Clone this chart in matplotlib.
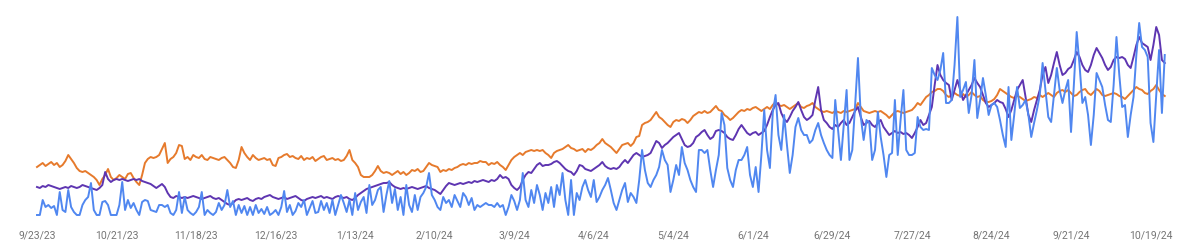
import numpy as np
import matplotlib
matplotlib.use('Agg')
import matplotlib.pyplot as plt

# daily values, day 0 = 9/23/23, last day = 10/24/24 (relative units)
orange = [
    48, 50, 52, 49, 51, 53, 50, 52, 48, 50,
    54, 60, 56, 52, 47, 44, 43, 44, 42, 40,
    38, 35, 30, 36, 40, 46, 38, 35, 37, 40,
    38, 36, 41, 42, 37, 33, 30, 40, 52, 56,
    58, 57, 58, 60, 66, 72, 52, 56, 58, 62,
    70, 69, 56, 58, 55, 60, 58, 57, 60, 56,
    55, 58, 57, 56, 55, 57, 58, 55, 52, 48,
    47, 55, 68, 62, 58, 55, 60, 57, 55, 56,
    57, 55, 56, 50, 49, 57, 58, 60, 61, 58,
    59, 57, 56, 59, 55, 57, 56, 58, 54, 56,
    58, 59, 55, 56, 57, 55, 56, 54, 55, 59,
    65, 55, 52, 48, 40, 38, 38, 38, 40, 44,
    49, 44, 42, 43, 42, 40, 42, 44, 41, 43,
    40, 42, 45, 44, 46, 43, 44, 48, 52, 50,
    49, 48, 43, 45, 44, 46, 45, 47, 48, 50,
    51, 50, 52, 51, 52, 52, 54, 53, 53, 50,
    52, 51, 53, 50, 48, 45, 50, 55, 58, 60,
    62, 60, 63, 64, 65, 64, 65, 64, 65, 62,
    60, 57, 62, 64, 65, 66, 68, 70, 67, 66,
    64, 65, 66, 63, 66, 65, 67, 70, 72, 76,
    72, 70, 68, 65, 62, 66, 70, 71, 72, 69,
    72, 78, 79, 90, 92, 93, 95, 99, 103, 98,
    96, 93, 90, 88, 93, 95, 94, 96, 95, 92,
    95, 99, 101, 103, 102, 104, 102, 103, 106, 109,
    105, 104, 100, 98, 95, 97, 100, 103, 105, 104,
    106, 105, 107, 108, 106, 104, 106, 108, 106, 110,
    113, 110, 109, 110, 108, 106, 108, 110, 112, 108,
    107, 109, 110, 112, 108, 106, 104, 103, 104, 103,
    102, 104, 103, 102, 104, 103, 104, 105, 106, 112,
    108, 104, 103, 102, 103, 104, 103, 104, 102, 100,
    97, 100, 103, 104, 103, 102, 103, 104, 105, 108,
    112, 110, 114, 118, 120, 123, 124, 126, 126, 124,
    120, 118, 120, 122, 120, 119, 121, 118, 120, 123,
    120, 118, 119, 115, 113, 113, 114, 116, 120, 126,
    124, 122, 120, 118, 117, 119, 118, 116, 114, 115,
    116, 118, 117, 120, 118, 120, 122, 120, 118, 122,
    124, 125, 123, 125, 122, 119, 120, 123, 125, 126,
    122, 120, 123, 126, 124, 120, 119, 120, 121, 122,
    121, 119, 118, 116, 119, 122, 125, 128, 126, 125,
    122, 121, 124, 126, 130, 125, 121, 119,
]

purple = [
    28, 27, 29, 28, 30, 29, 28, 27, 26, 27,
    28, 27, 29, 28, 27, 28, 30, 29, 28, 27,
    26, 25, 27, 30, 43, 36, 33, 35, 36, 35,
    36, 35, 34, 35, 36, 35, 36, 34, 33, 32,
    31, 29, 27, 29, 31, 28, 22, 18, 17, 19,
    18, 17, 18, 17, 18, 19, 18, 17, 16, 17,
    18, 19, 17, 16, 17, 15, 13, 11, 10, 12,
    15, 16, 15, 16, 17, 15, 14, 16, 17, 16,
    18, 19, 20, 18, 17, 16, 17, 18, 16, 17,
    18, 19, 17, 15, 14, 16, 17, 18, 17, 18,
    19, 17, 18, 17, 16, 18, 19, 18, 17, 18,
    16, 15, 17, 20, 22, 24, 26, 27, 28, 29,
    30, 31, 32, 32, 33, 30, 28, 27, 26, 27,
    26, 27, 28, 27, 26, 27, 28, 29, 27, 26,
    25, 23, 21, 25, 29, 32, 31, 30, 31, 32,
    31, 32, 33, 32, 34, 33, 34, 35, 34, 33,
    35, 34, 36, 40, 37, 38, 36, 30, 27, 25,
    28, 35, 40, 43, 42, 46, 50, 52, 49, 50,
    50, 51, 53, 54, 52, 49, 46, 44, 43, 40,
    44, 50, 49, 46, 45, 44, 46, 48, 50, 53,
    49, 47, 46, 47, 46, 48, 52, 55, 52, 56,
    60, 62, 60, 58, 59, 60, 62, 68, 74, 72,
    67, 70, 72, 75, 78, 80, 82, 76, 70, 68,
    69, 72, 78, 80, 83, 85, 80, 76, 78, 84,
    85, 84, 82, 78, 76, 75, 80, 86, 90, 86,
    82, 80, 82, 83, 80, 82, 84, 90, 98, 105,
    110, 112, 102, 96, 93, 98, 104, 108, 113, 105,
    98, 95, 97, 100, 115, 128, 105, 95, 92, 88,
    86, 90, 88, 92, 95, 90, 92, 98, 104, 108,
    98, 90, 92, 94, 90, 88, 92, 95, 88, 84,
    80, 82, 84, 82, 83, 81, 82, 80, 77, 82,
    88, 95, 90, 92, 100, 108, 130, 150, 140, 135,
    132, 130, 115, 125, 135, 125, 115, 120, 125, 130,
    137, 132, 128, 120, 112, 108, 110, 112, 115, 113,
    112, 106, 98, 105, 115, 125, 130, 135, 118, 100,
    93, 105, 115, 125, 140, 148, 132, 140, 152, 163,
    150, 140, 142, 146, 148, 155, 163, 158, 150, 145,
    143, 150, 160, 167, 162, 157, 150, 145, 148, 155,
    158, 157, 158, 156, 150, 147, 158, 170, 178, 172,
    170, 168, 155, 170, 188, 180, 155, 152,
]

blue = [
    0, 0, 15, 8, 10, 7, 9, 0, 23, 5,
    3, 25, 8, 3, 0, 0, 10, 15, 18, 32,
    5, 0, 0, 13, 14, 10, 0, 0, 0, 10,
    33, 5, 15, 7, 12, 5, 0, 13, 15, 14,
    5, 4, 3, 10, 10, 8, 10, 2, 0, 5,
    23, 2, 18, 5, 2, 0, 3, 8, 23, 0,
    5, 2, 0, 3, 12, 5, 10, 25, 8, 14,
    0, 10, 2, 9, 0, 8, 0, 10, 2, 6,
    1, 8, 0, 2, 5, 0, 8, 24, 3, 10,
    0, 4, 12, 8, 15, 0, 7, 14, 2, 3,
    14, 5, 12, 2, 15, 0, 10, 20, 12, 3,
    15, 0, 22, 5, 13, 18, 2, 30, 10, 15,
    25, 28, 3, 20, 34, 12, 26, 5, 18, 0,
    30, 10, 3, 20, 5, 18, 22, 28, 42, 20,
    15, 8, 5, 18, 12, 15, 8, 20, 14, 8,
    22, 18, 10, 17, 5, 10, 8, 10, 12, 10,
    10, 8, 12, 8, 10, 0, 8, 20, 14, 5,
    15, 42, 15, 8, 25, 12, 30, 20, 5, 22,
    12, 28, 8, 30, 20, 42, 15, 0, 35, 0,
    22, 15, 28, 35, 25, 18, 35, 13, 18, 25,
    30, 37, 25, 12, 5, 15, 25, 32, 13, 22,
    18, 12, 35, 65, 45, 32, 28, 35, 40, 48,
    65, 55, 50, 23, 35, 50, 40, 68, 52, 45,
    35, 28, 23, 65, 65, 62, 65, 45, 28, 45,
    60, 102, 90, 47, 35, 28, 45, 55, 55, 60,
    68, 40, 28, 48, 23, 60, 105, 65, 47, 102,
    120, 80, 65, 100, 70, 42, 60, 88, 97, 85,
    80, 80, 72, 75, 85, 92, 80, 72, 65, 60,
    57, 115, 85, 55, 90, 125, 55, 65, 110, 157,
    98, 75, 95, 92, 55, 65, 103, 78, 60, 38,
    60, 62, 115, 60, 95, 125, 65, 60, 60, 62,
    98, 88, 85, 86, 85, 147, 140, 135, 145, 162,
    112, 112, 115, 150, 198, 118, 125, 133, 102, 120,
    155, 97, 115, 137, 120, 100, 110, 112, 108, 95,
    80, 68, 128, 75, 100, 128, 107, 110, 115, 100,
    78, 92, 105, 120, 152, 125, 98, 93, 120, 147,
    125, 112, 125, 135, 83, 130, 183, 150, 112, 118,
    100, 70, 100, 142, 135, 128, 110, 95, 93, 130,
    178, 140, 108, 110, 78, 100, 118, 160, 192, 168,
    165, 158, 92, 73, 120, 165, 102, 160,
]

tick_days = [0, 28, 56, 84, 112, 140, 168, 196, 224, 252, 280, 308, 336, 364, 392]
tick_labels = ['9/23/23', '10/21/23', '11/18/23', '12/16/23', '1/13/24', '2/10/24',
               '3/9/24', '4/6/24', '5/4/24', '6/1/24', '6/29/24', '7/27/24',
               '8/24/24', '9/21/24', '10/19/24']

ORANGE = '#E67A2C'
PURPLE = '#5E35B1'
BLUE = '#5087F0'

days = np.arange(len(blue))

fig = plt.figure(figsize=(12, 2.5), dpi=100)
ax = fig.add_axes([0, 0.14, 1, 0.8])

ax.plot(days, orange, color=ORANGE, lw=1.4, clip_on=False)
ax.plot(days, purple, color=PURPLE, lw=1.4, clip_on=False)
ax.plot(days, blue, color=BLUE, lw=1.4, clip_on=False)

px_per_day = 2.8407
ax.set_xlim(-37 / px_per_day, (1200 - 37) / px_per_day)
ax.set_ylim(0, 200)

ax.set_xticks(tick_days)
ax.set_xticklabels(tick_labels, fontsize=7.5, color='#757575', family='Roboto')
ax.tick_params(axis='x', length=0, pad=11)
ax.set_yticks([])
for s in ax.spines.values():
    s.set_visible(False)

fig.savefig('out.png', dpi=100)
